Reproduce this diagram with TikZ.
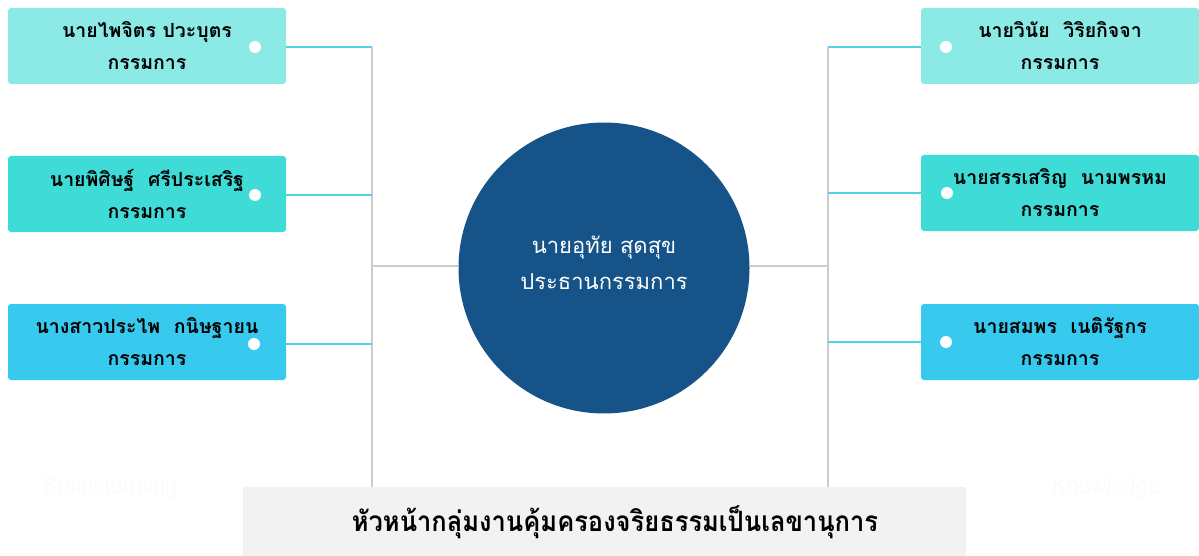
\documentclass[tikz,border=0pt]{standalone}
\usepackage{fontspec}
\newfontfamily\thaifont[Script=Thai]{Loma}
\setsansfont{Liberation Sans}
\definecolor{boxA}{HTML}{8BEAE6}
\definecolor{boxB}{HTML}{3FDBD6}
\definecolor{boxC}{HTML}{38C9EF}
\definecolor{circ}{HTML}{165389}
\definecolor{cline}{HTML}{4FD3E3}
\definecolor{gline}{HTML}{CCCCCC}
\definecolor{botbg}{HTML}{F2F2F2}
\definecolor{faint}{HTML}{FBFBFB}
\tikzset{
  member/.style={rounded corners=3pt, minimum width=278pt, minimum height=76pt, inner sep=0pt, align=center, font=\thaifont\bfseries\fontsize{19.5}{32}\selectfont, text=black},
  dotw/.style={circle, fill=white, inner sep=0pt, minimum size=12pt},
  cyanline/.style={draw=cline, line width=2pt},
  grayline/.style={draw=gline, line width=2pt},
}
\begin{document}
\begin{tikzpicture}[x=1pt,y=-1pt]
\useasboundingbox[fill=white] (0,0) rectangle (1199,556);
% faint background words
\node[font=\sffamily\fontsize{23}{26}\selectfont, text=faint, xscale=0.95] (fw1) at (110,488) {Brainstorming};
\node[font=\sffamily\fontsize{23}{26}\selectfont, text=faint, xscale=0.95] (fw2) at (1106,488) {Knowledge};
% bottom box
\node[fill=botbg, rounded corners=2pt, minimum width=723pt, minimum height=72pt, inner sep=0pt] (B) at (604.5,523) {};
\node[font=\thaifont\bfseries\fontsize{28}{32}\selectfont, xscale=0.91] (Bt) at (615,522) {หัวหน้ากลุ่มงานคุ้มครองจริยธรรมเป็นเลขานุการ};
% junction coordinates
\coordinate (jl) at (372,47);
\coordinate (jr) at (828,47);
% boxes left
\node[member, fill=boxA] (L1) at (147,46) {นายไพจิตร ปวะบุตร\\กรรมการ};
\node[member, fill=boxB] (L2) at (147,194) {นายพิศิษฐ์\hspace{0.7em}ศรีประเสริฐ\\กรรมการ};
\node[member, fill=boxC] (L3) at (147,342) {นางสาวประไพ\hspace{0.7em}กนิษฐายน\\กรรมการ};
% boxes right
\node[member, fill=boxA] (R1) at (1060,46) {นายวินัย\hspace{0.7em}วิริยกิจจา\\กรรมการ};
\node[member, fill=boxB] (R2) at (1060,193) {นายสรรเสริญ\hspace{0.7em}นามพรหม\\กรรมการ};
\node[member, fill=boxC] (R3) at (1060,342) {นายสมพร\hspace{0.7em}เนติรัฐกร\\กรรมการ};
% circle
\node[circle, fill=circ, minimum size=291pt, inner sep=0pt] (C) at (604,268) {};
\node[align=center, text=white, font=\thaifont\fontsize{22}{36}\selectfont] (Ct) at (604,263) {นายอุทัย สุดสุข\\ประธานกรรมการ};
% gray trunk lines
\draw[grayline] (jl) -- (jl |- B.north);
\draw[grayline] (jr) -- (jr |- B.north);
\draw[grayline] (jl |- 0,266) -- (C.west |- 0,266);
\draw[grayline] (jr |- 0,266) -- (C.east |- 0,266);
% cyan branches
\draw[cyanline] (L1.east |- 0,47) -- (jl);
\draw[cyanline] (L2.east |- 0,195) -- (jl |- 0,195);
\draw[cyanline] (L3.east |- 0,344) -- (jl |- 0,344);
\draw[cyanline] (R1.west |- 0,47) -- (jr);
\draw[cyanline] (R2.west) -- (jr |- R2.west);
\draw[cyanline] (R3.west) -- (jr |- R3.west);
% white dots
\node[dotw] (dl1) at (255,47) {};
\node[dotw] (dl2) at (255,195) {};
\node[dotw] (dl3) at (254,344) {};
\node[dotw] (dr1) at (946,47) {};
\node[dotw] (dr2) at (947,193) {};
\node[dotw] (dr3) at (946,342) {};
\end{tikzpicture}
\end{document}
